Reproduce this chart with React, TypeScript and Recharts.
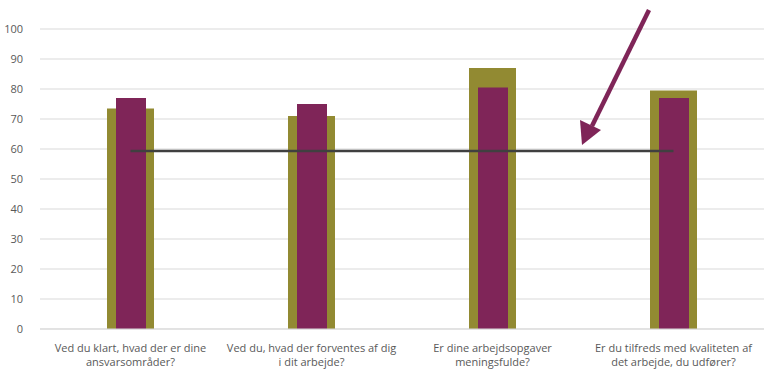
import React from 'react';
import { ComposedChart, Bar, Line, XAxis, YAxis, CartesianGrid } from 'recharts';

document.body.style.margin = '0';

const categories = [
  'Ved du klart, hvad der er dine ansvarsområder?',
  'Ved du, hvad der forventes af dig i dit arbejde?',
  'Er dine arbejdsopgaver meningsfulde?',
  'Er du tilfreds med kvaliteten af det arbejde, du udfører?',
];
const labelLines = [
  ['Ved du klart, hvad der er dine', 'ansvarsområder?'],
  ['Ved du, hvad der forventes af dig', 'i dit arbejde?'],
  ['Er dine arbejdsopgaver', 'meningsfulde?'],
  ['Er du tilfreds med kvaliteten af', 'det arbejde, du udfører?'],
];
const olive = [73.5, 71, 87, 79.5];
const purple = [77, 75, 80.5, 77];
const benchmark = [59.3, 59.3, 59.3, 59.3];
const yTicks = [0, 10, 20, 30, 40, 50, 60, 70, 80, 90, 100];

const data = categories.map((name, i) => ({
  name,
  olive: olive[i],
  purple: purple[i],
  benchmark: benchmark[i],
}));

const XTick = ({ x, y, payload }: any) => {
  const lines = labelLines[categories.indexOf(payload.value)] || [payload.value];
  return (
    <text
      x={x}
      y={y}
      textAnchor="middle"
      fill="#595959"
      fontSize={11}
      fontFamily="'Open Sans', sans-serif"
    >
      {lines.map((l: string, i: number) => (
        <tspan key={i} x={x} dy={i === 0 ? 15 : 14}>
          {l}
        </tspan>
      ))}
    </text>
  );
};

export default function App() {
  return (
    <div style={{ position: 'relative', width: 764, height: 369, background: '#fff' }}>
      <ComposedChart
        width={764}
        height={369}
        data={data}
        margin={{ top: 29, right: 0, left: 0, bottom: 0 }}
      >
        <CartesianGrid vertical={false} stroke="#d9d9d9" />
        <XAxis
          xAxisId="a"
          dataKey="name"
          height={40}
          tickLine={false}
          axisLine={{ stroke: '#d9d9d9' }}
          tick={<XTick />}
          interval={0}
        />
        <XAxis xAxisId="b" dataKey="name" hide />
        <YAxis
          domain={[0, 100]}
          ticks={yTicks}
          width={40}
          axisLine={false}
          tickLine={false}
          tick={{ fill: '#595959', fontSize: 11, fontFamily: "'Open Sans', sans-serif" }}
          tickMargin={11}
        />
        <Bar xAxisId="a" dataKey="olive" fill="#928a32" barSize={47} isAnimationActive={false} />
        <Bar xAxisId="b" dataKey="purple" fill="#7f2558" barSize={30} isAnimationActive={false} />
        <Line
          xAxisId="a"
          dataKey="benchmark"
          type="linear"
          stroke="#404040"
          strokeWidth={2.5}
          dot={false}
          activeDot={false}
          isAnimationActive={false}
        />
      </ComposedChart>
      <svg
        width={764}
        height={369}
        style={{ position: 'absolute', left: 0, top: 0, pointerEvents: 'none' }}
      >
        <line x1={649} y1={10} x2={592} y2={126} stroke="#7f2558" strokeWidth={4.5} />
        <polygon points="582,145 580,120 601,130" fill="#7f2558" />
      </svg>
    </div>
  );
}
